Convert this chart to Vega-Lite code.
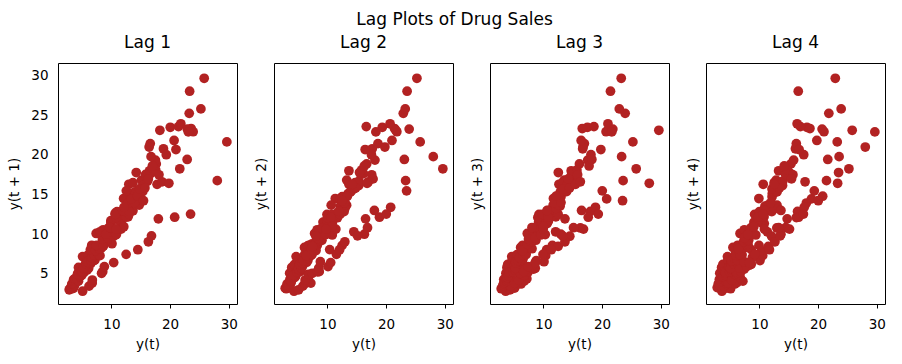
{
"$schema": "https://vega.github.io/schema/vega-lite/v6.json",
"background": "white",
"padding": {"left": 7, "top": 10, "right": 5, "bottom": 5},
"title": {"text": "Lag Plots of Drug Sales", "anchor": "middle", "fontSize": 17, "fontWeight": "normal", "font": "DejaVu Sans", "color": "#000", "offset": 5, "dx": 8},
"spacing": 15,
"config": {
 "font": "DejaVu Sans",
 "view": {"stroke": "#000", "strokeWidth": 1},
 "axis": {"grid": false, "domain": false, "labelFont": "DejaVu Sans", "labelFontSize": 13.5, "labelColor": "#000", "titleFont": "DejaVu Sans", "titleFontSize": 13.5, "titleFontWeight": "normal", "titleColor": "#000", "tickColor": "#000", "tickSize": 4},
 "axisX": {"labelPadding": 9, "titlePadding": 7},
 "axisY": {"ticks": false, "labelPadding": 10, "titlePadding": 9},
 "title": {"fontSize": 17, "fontWeight": "normal", "color": "#000", "offset": 11}
},
"datasets": {"s": [
{"x":3.53,"a":3.18,"b":3.25,"c":3.61,"d":3.57},
{"x":3.18,"a":3.25,"b":3.61,"c":3.57,"d":4.31},
{"x":3.25,"a":3.61,"b":3.57,"c":4.31,"d":5.09},
{"x":3.61,"a":3.57,"b":4.31,"c":5.09,"d":2.81},
{"x":3.57,"a":4.31,"b":5.09,"c":2.81,"d":2.99},
{"x":4.31,"a":5.09,"b":2.81,"c":2.99,"d":3.20},
{"x":5.09,"a":2.81,"b":2.99,"c":3.20,"d":3.13},
{"x":2.81,"a":2.99,"b":3.20,"c":3.13,"d":3.27},
{"x":2.99,"a":3.20,"b":3.13,"c":3.27,"d":3.74},
{"x":3.20,"a":3.13,"b":3.27,"c":3.74,"d":3.56},
{"x":3.13,"a":3.27,"b":3.74,"c":3.56,"d":3.78},
{"x":3.27,"a":3.74,"b":3.56,"c":3.78,"d":3.92},
{"x":3.74,"a":3.56,"b":3.78,"c":3.92,"d":4.39},
{"x":3.56,"a":3.78,"b":3.92,"c":4.39,"d":5.81},
{"x":3.78,"a":3.92,"b":4.39,"c":5.81,"d":6.19},
{"x":3.92,"a":4.39,"b":5.81,"c":6.19,"d":3.45},
{"x":4.39,"a":5.81,"b":6.19,"c":3.45,"d":3.77},
{"x":5.81,"a":6.19,"b":3.45,"c":3.77,"d":3.73},
{"x":6.19,"a":3.45,"b":3.77,"c":3.73,"d":3.91},
{"x":3.45,"a":3.77,"b":3.73,"c":3.91,"d":4.05},
{"x":3.77,"a":3.73,"b":3.91,"c":4.05,"d":4.32},
{"x":3.73,"a":3.91,"b":4.05,"c":4.32,"d":4.56},
{"x":3.91,"a":4.05,"b":4.32,"c":4.56,"d":4.61},
{"x":4.05,"a":4.32,"b":4.56,"c":4.61,"d":4.67},
{"x":4.32,"a":4.56,"b":4.61,"c":4.67,"d":5.09},
{"x":4.56,"a":4.61,"b":4.67,"c":5.09,"d":7.18},
{"x":4.61,"a":4.67,"b":5.09,"c":7.18,"d":6.73},
{"x":4.67,"a":5.09,"b":7.18,"c":6.73,"d":3.84},
{"x":5.09,"a":7.18,"b":6.73,"c":3.84,"d":4.39},
{"x":7.18,"a":6.73,"b":3.84,"c":4.39,"d":4.08},
{"x":6.73,"a":3.84,"b":4.39,"c":4.08,"d":4.54},
{"x":3.84,"a":4.39,"b":4.08,"c":4.54,"d":4.65},
{"x":4.39,"a":4.08,"b":4.54,"c":4.65,"d":4.75},
{"x":4.08,"a":4.54,"b":4.65,"c":4.75,"d":5.35},
{"x":4.54,"a":4.65,"b":4.75,"c":5.35,"d":5.20},
{"x":4.65,"a":4.75,"b":5.35,"c":5.20,"d":5.30},
{"x":4.75,"a":5.35,"b":5.20,"c":5.30,"d":5.77},
{"x":5.35,"a":5.20,"b":5.30,"c":5.77,"d":6.20},
{"x":5.20,"a":5.30,"b":5.77,"c":6.20,"d":6.75},
{"x":5.30,"a":5.77,"b":6.20,"c":6.75,"d":4.22},
{"x":5.77,"a":6.20,"b":6.75,"c":4.22,"d":4.95},
{"x":6.20,"a":6.75,"b":4.22,"c":4.95,"d":4.82},
{"x":6.75,"a":4.22,"b":4.95,"c":4.82,"d":5.19},
{"x":4.22,"a":4.95,"b":4.82,"c":5.19,"d":5.17},
{"x":4.95,"a":4.82,"b":5.19,"c":5.17,"d":5.26},
{"x":4.82,"a":5.19,"b":5.17,"c":5.26,"d":5.86},
{"x":5.19,"a":5.17,"b":5.26,"c":5.86,"d":5.49},
{"x":5.17,"a":5.26,"b":5.86,"c":5.49,"d":6.12},
{"x":5.26,"a":5.86,"b":5.49,"c":6.12,"d":6.09},
{"x":5.86,"a":5.49,"b":6.12,"c":6.09,"d":7.42},
{"x":5.49,"a":6.12,"b":6.09,"c":7.42,"d":8.33},
{"x":6.12,"a":6.09,"b":7.42,"c":8.33,"d":5.07},
{"x":6.09,"a":7.42,"b":8.33,"c":5.07,"d":5.26},
{"x":7.42,"a":8.33,"b":5.07,"c":5.26,"d":5.60},
{"x":8.33,"a":5.07,"b":5.26,"c":5.60,"d":6.11},
{"x":5.07,"a":5.26,"b":5.60,"c":6.11,"d":5.69},
{"x":5.26,"a":5.60,"b":6.11,"c":5.69,"d":6.49},
{"x":5.60,"a":6.11,"b":5.69,"c":6.49,"d":6.30},
{"x":6.11,"a":5.69,"b":6.49,"c":6.30,"d":6.47},
{"x":5.69,"a":6.49,"b":6.30,"c":6.47,"d":6.83},
{"x":6.49,"a":6.30,"b":6.47,"c":6.83,"d":6.65},
{"x":6.30,"a":6.47,"b":6.83,"c":6.65,"d":8.61},
{"x":6.47,"a":6.83,"b":6.65,"c":8.61,"d":8.52},
{"x":6.83,"a":6.65,"b":8.61,"c":8.52,"d":5.28},
{"x":6.65,"a":8.61,"b":8.52,"c":5.28,"d":5.71},
{"x":8.61,"a":8.52,"b":5.28,"c":5.71,"d":6.21},
{"x":8.52,"a":5.28,"b":5.71,"c":6.21,"d":6.41},
{"x":5.28,"a":5.71,"b":6.21,"c":6.41,"d":6.67},
{"x":5.71,"a":6.21,"b":6.41,"c":6.67,"d":7.05},
{"x":6.21,"a":6.41,"b":6.67,"c":7.05,"d":6.70},
{"x":6.41,"a":6.67,"b":7.05,"c":6.70,"d":7.25},
{"x":6.67,"a":7.05,"b":6.70,"c":7.25,"d":7.82},
{"x":7.05,"a":6.70,"b":7.25,"c":7.82,"d":7.40},
{"x":6.70,"a":7.25,"b":7.82,"c":7.40,"d":10.10},
{"x":7.25,"a":7.82,"b":7.40,"c":10.10,"d":8.80},
{"x":7.82,"a":7.40,"b":10.10,"c":8.80,"d":5.92},
{"x":7.40,"a":10.10,"b":8.80,"c":5.92,"d":6.53},
{"x":10.10,"a":8.80,"b":5.92,"c":6.53,"d":6.68},
{"x":8.80,"a":5.92,"b":6.53,"c":6.68,"d":7.06},
{"x":5.92,"a":6.53,"b":6.68,"c":7.06,"d":7.38},
{"x":6.53,"a":6.68,"b":7.06,"c":7.38,"d":7.81},
{"x":6.68,"a":7.06,"b":7.38,"c":7.81,"d":7.43},
{"x":7.06,"a":7.38,"b":7.81,"c":7.43,"d":8.28},
{"x":7.38,"a":7.81,"b":7.43,"c":8.28,"d":8.26},
{"x":7.81,"a":7.43,"b":8.28,"c":8.26,"d":8.60},
{"x":7.43,"a":8.28,"b":8.26,"c":8.60,"d":10.56},
{"x":8.28,"a":8.26,"b":8.60,"c":10.56,"d":10.39},
{"x":8.26,"a":8.60,"b":10.56,"c":10.39,"d":6.42},
{"x":8.60,"a":10.56,"b":10.39,"c":6.42,"d":8.06},
{"x":10.56,"a":10.39,"b":6.42,"c":8.06,"d":7.30},
{"x":10.39,"a":6.42,"b":8.06,"c":7.30,"d":7.94},
{"x":6.42,"a":8.06,"b":7.30,"c":7.94,"d":8.17},
{"x":8.06,"a":7.30,"b":7.94,"c":8.17,"d":8.72},
{"x":7.30,"a":7.94,"b":8.17,"c":8.72,"d":9.07},
{"x":7.94,"a":8.17,"b":8.72,"c":9.07,"d":9.18},
{"x":8.17,"a":8.72,"b":9.07,"c":9.18,"d":9.25},
{"x":8.72,"a":9.07,"b":9.18,"c":9.25,"d":9.93},
{"x":9.07,"a":9.18,"b":9.25,"c":9.93,"d":11.53},
{"x":9.18,"a":9.25,"b":9.93,"c":11.53,"d":12.51},
{"x":9.25,"a":9.93,"b":11.53,"c":12.51,"d":7.46},
{"x":9.93,"a":11.53,"b":12.51,"c":7.46,"d":8.59},
{"x":11.53,"a":12.51,"b":7.46,"c":8.59,"d":8.47},
{"x":12.51,"a":7.46,"b":8.59,"c":8.47,"d":9.39},
{"x":7.46,"a":8.59,"b":8.47,"c":9.39,"d":9.56},
{"x":8.59,"a":8.47,"b":9.39,"c":9.56,"d":10.83},
{"x":8.47,"a":9.39,"b":9.56,"c":10.83,"d":10.64},
{"x":9.39,"a":9.56,"b":10.83,"c":10.64,"d":9.91},
{"x":9.56,"a":10.83,"b":10.64,"c":9.91,"d":11.71},
{"x":10.83,"a":10.64,"b":9.91,"c":11.71,"d":11.34},
{"x":10.64,"a":9.91,"b":11.71,"c":11.34,"d":12.08},
{"x":9.91,"a":11.71,"b":11.34,"c":12.08,"d":14.50},
{"x":11.71,"a":11.34,"b":12.08,"c":14.50,"d":8.05},
{"x":11.34,"a":12.08,"b":14.50,"c":8.05,"d":10.31},
{"x":12.08,"a":14.50,"b":8.05,"c":10.31,"d":9.75},
{"x":14.50,"a":8.05,"b":10.31,"c":9.75,"d":10.85},
{"x":8.05,"a":10.31,"b":9.75,"c":10.85,"d":9.96},
{"x":10.31,"a":9.75,"b":10.85,"c":9.96,"d":11.44},
{"x":9.75,"a":10.85,"b":9.96,"c":11.44,"d":11.66},
{"x":10.85,"a":9.96,"b":11.44,"c":11.66,"d":10.65},
{"x":9.96,"a":11.44,"b":11.66,"c":10.65,"d":12.65},
{"x":11.44,"a":11.66,"b":10.65,"c":12.65,"d":13.67},
{"x":11.66,"a":10.65,"b":12.65,"c":13.67,"d":12.97},
{"x":10.65,"a":12.65,"b":13.67,"c":12.97,"d":16.30},
{"x":12.65,"a":13.67,"b":12.97,"c":16.30,"d":9.05},
{"x":13.67,"a":12.97,"b":16.30,"c":9.05,"d":10.00},
{"x":12.97,"a":16.30,"b":9.05,"c":10.00,"d":10.79},
{"x":16.30,"a":9.05,"b":10.00,"c":10.79,"d":12.11},
{"x":9.05,"a":10.00,"b":10.79,"c":12.11,"d":10.95},
{"x":10.00,"a":10.79,"b":12.11,"c":10.95,"d":12.84},
{"x":10.79,"a":12.11,"b":10.95,"c":12.84,"d":12.20},
{"x":12.11,"a":10.95,"b":12.84,"c":12.20,"d":12.85},
{"x":10.95,"a":12.84,"b":12.20,"c":12.85,"d":13.54},
{"x":12.84,"a":12.20,"b":12.85,"c":13.54,"d":13.29},
{"x":12.20,"a":12.85,"b":13.54,"c":13.29,"d":15.13},
{"x":12.85,"a":13.54,"b":13.29,"c":15.13,"d":16.83},
{"x":13.54,"a":13.29,"b":15.13,"c":16.83,"d":9.80},
{"x":13.29,"a":15.13,"b":16.83,"c":9.80,"d":10.82},
{"x":15.13,"a":16.83,"b":9.80,"c":10.82,"d":10.65},
{"x":16.83,"a":9.80,"b":10.82,"c":10.65,"d":12.51},
{"x":9.80,"a":10.82,"b":10.65,"c":12.51,"d":12.16},
{"x":10.82,"a":10.65,"b":12.51,"c":12.16,"d":13.00},
{"x":10.65,"a":12.51,"b":12.16,"c":13.00,"d":12.52},
{"x":12.51,"a":12.16,"b":13.00,"c":12.52,"d":13.27},
{"x":12.16,"a":13.00,"b":12.52,"c":13.27,"d":14.73},
{"x":13.00,"a":12.52,"b":13.27,"c":14.73,"d":13.67},
{"x":12.52,"a":13.27,"b":14.73,"c":13.67,"d":16.50},
{"x":13.27,"a":14.73,"b":13.67,"c":16.50,"d":18.00},
{"x":14.73,"a":13.67,"b":16.50,"c":18.00,"d":11.94},
{"x":13.67,"a":16.50,"b":18.00,"c":11.94,"d":13.00},
{"x":16.50,"a":18.00,"b":11.94,"c":13.00,"d":12.88},
{"x":18.00,"a":11.94,"b":13.00,"c":12.88,"d":13.94},
{"x":11.94,"a":13.00,"b":12.88,"c":13.94,"d":13.99},
{"x":13.00,"a":12.88,"b":13.94,"c":13.99,"d":15.34},
{"x":12.88,"a":13.94,"b":13.99,"c":15.34,"d":15.37},
{"x":13.94,"a":13.99,"b":15.34,"c":15.37,"d":16.14},
{"x":13.99,"a":15.34,"b":15.37,"c":16.14,"d":16.69},
{"x":15.34,"a":15.37,"b":16.14,"c":16.69,"d":17.64},
{"x":15.37,"a":16.14,"b":16.69,"c":17.64,"d":18.87},
{"x":16.14,"a":16.69,"b":17.64,"c":18.87,"d":20.78},
{"x":16.69,"a":17.64,"b":18.87,"c":20.78,"d":12.15},
{"x":17.64,"a":18.87,"b":20.78,"c":12.15,"d":13.40},
{"x":18.87,"a":20.78,"b":12.15,"c":13.40,"d":14.46},
{"x":20.78,"a":12.15,"b":13.40,"c":14.46,"d":14.80},
{"x":12.15,"a":13.40,"b":14.46,"c":14.80,"d":15.71},
{"x":13.40,"a":14.46,"b":14.80,"c":15.71,"d":15.83},
{"x":14.46,"a":14.80,"b":15.71,"c":15.83,"d":17.55},
{"x":14.80,"a":15.71,"b":15.83,"c":17.55,"d":18.10},
{"x":15.71,"a":15.83,"b":17.55,"c":18.10,"d":17.50},
{"x":15.83,"a":17.55,"b":18.10,"c":17.50,"d":19.35},
{"x":17.55,"a":18.10,"b":17.50,"c":19.35,"d":20.03},
{"x":18.10,"a":17.50,"b":19.35,"c":20.03,"d":23.49},
{"x":17.50,"a":19.35,"b":20.03,"c":23.49,"d":12.54},
{"x":19.35,"a":20.03,"b":23.49,"c":12.54,"d":15.47},
{"x":20.03,"a":23.49,"b":12.54,"c":15.47,"d":14.23},
{"x":23.49,"a":12.54,"b":15.47,"c":14.23,"d":17.78},
{"x":12.54,"a":15.47,"b":14.23,"c":17.78,"d":16.29},
{"x":15.47,"a":14.23,"b":17.78,"c":16.29,"d":16.98},
{"x":14.23,"a":17.78,"b":16.29,"c":16.98,"d":18.61},
{"x":17.78,"a":16.29,"b":16.98,"c":18.61,"d":16.62},
{"x":16.29,"a":16.98,"b":18.61,"c":16.62,"d":21.43},
{"x":16.98,"a":18.61,"b":16.62,"c":21.43,"d":23.58},
{"x":18.61,"a":16.62,"b":21.43,"c":23.58,"d":23.33},
{"x":16.62,"a":21.43,"b":23.58,"c":23.33,"d":28.04},
{"x":21.43,"a":23.58,"b":23.33,"c":28.04,"d":16.76},
{"x":23.58,"a":23.33,"b":28.04,"c":16.76,"d":19.79},
{"x":23.33,"a":28.04,"b":16.76,"c":19.79,"d":16.43},
{"x":28.04,"a":16.76,"b":19.79,"c":16.43,"d":21.00},
{"x":16.76,"a":19.79,"b":16.43,"c":21.00,"d":20.68},
{"x":19.79,"a":16.43,"b":21.00,"c":20.68,"d":21.83},
{"x":16.43,"a":21.00,"b":20.68,"c":21.83,"d":23.93},
{"x":21.00,"a":20.68,"b":21.83,"c":23.93,"d":22.93},
{"x":20.68,"a":21.83,"b":23.93,"c":22.93,"d":23.26},
{"x":21.83,"a":23.93,"b":22.93,"c":23.26,"d":25.25},
{"x":23.93,"a":22.93,"b":23.26,"c":25.25,"d":25.81},
{"x":22.93,"a":23.26,"b":25.25,"c":25.81,"d":29.67},
{"x":23.26,"a":25.25,"b":25.81,"c":29.67,"d":21.65},
{"x":25.25,"a":25.81,"b":29.67,"c":21.65,"d":18.26},
{"x":25.81,"a":29.67,"b":21.65,"c":18.26,"d":23.11},
{"x":29.67,"a":21.65,"b":18.26,"c":23.11,"d":22.91},
{"x":21.65,"a":18.26,"b":23.11,"c":22.91,"d":19.43},
{"x":18.26,"a":23.11,"b":22.91,"c":19.43},
{"x":23.11,"a":22.91,"b":19.43},
{"x":22.91,"a":19.43}
]},
"hconcat": [
 {"width": 179, "height": 241, "title": "Lag 1", "data": {"name": "s"},
  "transform": [{"filter": "isValid(datum.a)"}],
  "mark": {"type": "circle", "size": 95, "color": "#b22222", "opacity": 1},
  "encoding": {
   "x": {"field": "x", "type": "quantitative", "scale": {"domain": [0.9, 31.4], "nice": false, "zero": false}, "axis": {"title": "y(t)", "values": [10, 20, 30]}},
   "y": {"field": "a", "type": "quantitative", "scale": {"domain": [1.2, 31.6], "nice": false, "zero": false}, "axis": {"title": "y(t + 1)", "values": [5, 10, 15, 20, 25, 30]}}
  }},
 {"width": 179, "height": 241, "title": "Lag 2", "data": {"name": "s"},
  "transform": [{"filter": "isValid(datum.b)"}],
  "mark": {"type": "circle", "size": 95, "color": "#b22222", "opacity": 1},
  "encoding": {
   "x": {"field": "x", "type": "quantitative", "scale": {"domain": [0.9, 31.4], "nice": false, "zero": false}, "axis": {"title": "y(t)", "values": [10, 20, 30]}},
   "y": {"field": "b", "type": "quantitative", "scale": {"domain": [1.2, 31.6], "nice": false, "zero": false}, "axis": {"title": "y(t + 2)", "labels": false, "titlePadding": 6}}
  }},
 {"width": 179, "height": 241, "title": "Lag 3", "data": {"name": "s"},
  "transform": [{"filter": "isValid(datum.c)"}],
  "mark": {"type": "circle", "size": 95, "color": "#b22222", "opacity": 1},
  "encoding": {
   "x": {"field": "x", "type": "quantitative", "scale": {"domain": [0.9, 31.4], "nice": false, "zero": false}, "axis": {"title": "y(t)", "values": [10, 20, 30]}},
   "y": {"field": "c", "type": "quantitative", "scale": {"domain": [1.2, 31.6], "nice": false, "zero": false}, "axis": {"title": "y(t + 3)", "labels": false, "titlePadding": 6}}
  }},
 {"width": 179, "height": 241, "title": "Lag 4", "data": {"name": "s"},
  "transform": [{"filter": "isValid(datum.d)"}],
  "mark": {"type": "circle", "size": 95, "color": "#b22222", "opacity": 1},
  "encoding": {
   "x": {"field": "x", "type": "quantitative", "scale": {"domain": [0.9, 31.4], "nice": false, "zero": false}, "axis": {"title": "y(t)", "values": [10, 20, 30]}},
   "y": {"field": "d", "type": "quantitative", "scale": {"domain": [1.2, 31.6], "nice": false, "zero": false}, "axis": {"title": "y(t + 4)", "labels": false, "titlePadding": 6}}
  }}
]
}
